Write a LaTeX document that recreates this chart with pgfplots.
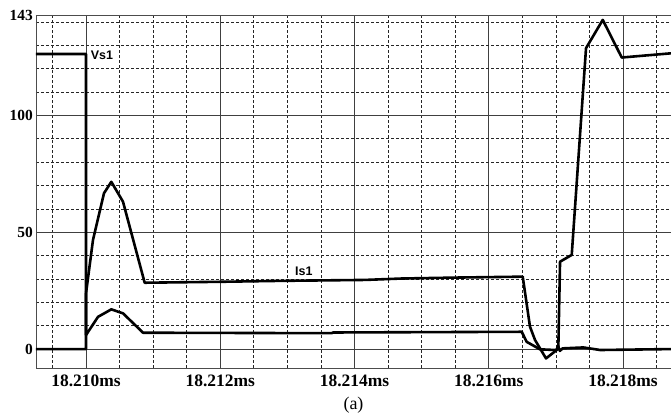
\documentclass[border=0pt]{standalone}
\usepackage{fontspec}
\setmainfont{Liberation Serif}
\newfontfamily\labelfont{Liberation Sans}
\usepackage{pgfplots}
\pgfplotsset{compat=1.18}
\begin{document}
\begin{tikzpicture}
\path[use as bounding box] (-36bp,-50bp) rectangle (635bp,368bp);
\begin{axis}[
  at={(0,0)}, anchor=south west,
  width=635bp, height=353bp, scale only axis,
  xmin=18209.255, xmax=18218.715, ymin=-8.1, ymax=143,
  xtick={18210,18212,18214,18216,18218},
  xticklabels={18.210ms,18.212ms,18.214ms,18.216ms,18.218ms},
  minor xtick={18209.5,18210.5,18211,18211.5,18212.5,18213,18213.5,18214.5,18215,18215.5,18216.5,18217,18217.5,18218.5},
  ytick={0,50,100,143},
  minor ytick={10,20,30,40,60,70,80,90,110,120,130,140},
  grid=both,
  major grid style={black!75, line width=0.8bp},
  minor grid style={black!85, line width=0.7bp, dash pattern=on 3bp off 2bp},
  major tick length=0pt, minor tick length=0pt,
  axis line style={black!70, line width=0.9bp},
  /pgf/number format/assume math mode=true,
  scaled ticks=false,
  xticklabel style={font=\fontsize{17.5}{19}\selectfont\bfseries, inner sep=0pt, anchor=north, yshift=-7bp},
  yticklabel style={font=\fontsize{15.5}{17}\selectfont\bfseries, inner sep=0pt, anchor=east, xshift=-3bp},
  clip=true,
]
% Is1
\addplot[black, line width=2.6bp, line join=round] coordinates {
(18209.255,0) (18210.0,0) (18210.0,23.8) (18210.104,46.7) (18210.268,66.7)
(18210.377,71.6) (18210.551,63.1) (18210.874,28.4) (18212.0,28.8) (18212.9,29.2)
(18214.16,29.6) (18214.7,30.2) (18215.5,30.6) (18216.506,31.0) (18216.614,9.6)
(18216.689,3.9) (18216.853,-4.0) (18217.012,-0.4) (18217.03,1.6) (18217.06,-0.8)
(18217.1,0.3) (18217.41,0.7) (18217.66,-0.4) (18218.715,0)
};
% Vs1
\addplot[black, line width=2.6bp, line join=round] coordinates {
(18209.255,126.3) (18210.0,126.3) (18210.0,6.0) (18210.179,13.8) (18210.377,17.0)
(18210.551,15.3) (18210.85,7.0) (18213.66,6.8) (18213.68,7.1) (18216.491,7.4)
(18216.565,3.1) (18216.763,-0.1) (18216.987,-0.4) (18217.036,0) (18217.062,37.4)
(18217.236,40.3) (18217.449,128.8) (18217.698,140.9) (18217.981,124.8) (18218.715,126.6)
};
\node[anchor=west, inner sep=0pt, font=\fontsize{12.5}{14}\selectfont\labelfont\bfseries] at (axis cs:18210.07,125.7) {Vs1};
\node[anchor=west, inner sep=0pt, font=\fontsize{12.5}{14}\selectfont\labelfont\bfseries] at (axis cs:18213.114,33.1) {Is1};
\end{axis}
\node[font=\fontsize{18}{20}\selectfont, inner sep=0pt] at (317.5bp,-36.7bp) {(a)};
\end{tikzpicture}
\end{document}
